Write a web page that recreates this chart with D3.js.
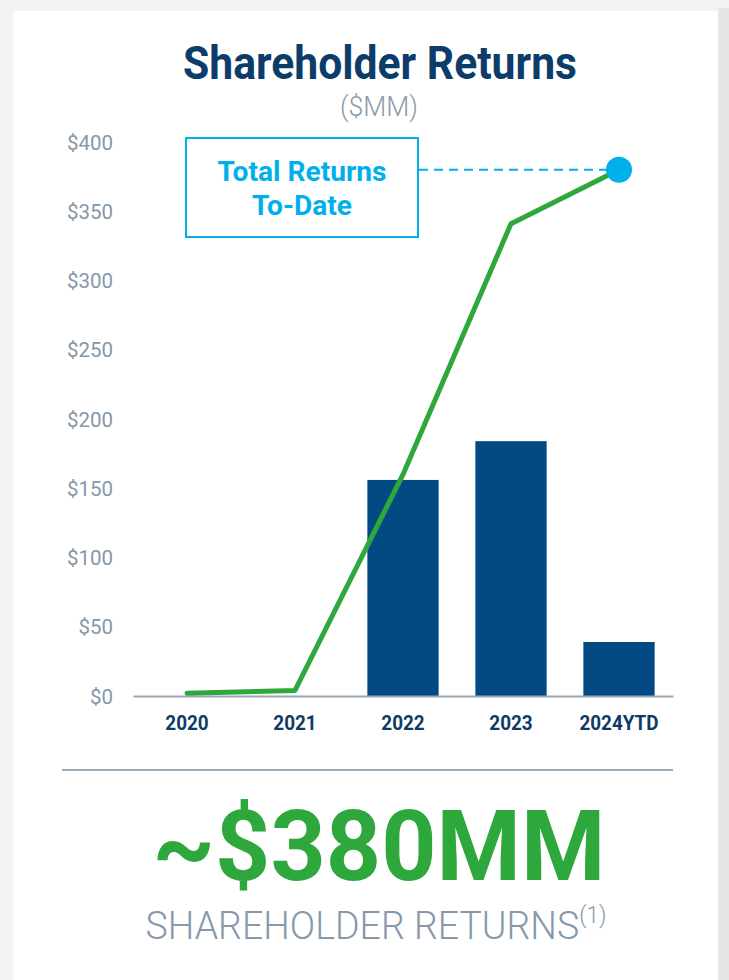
<!DOCTYPE html>
<html>
<head>
<meta charset="utf-8">
<script src="https://cdn.jsdelivr.net/npm/d3@7"></script>
<style>
  body { margin: 0; background: #f3f3f3; }
  svg { display: block; }
</style>
</head>
<body>
<svg id="chart" width="729" height="980"></svg>
<script>
// data ($MM)
var years = ['2020', '2021', '2022', '2023', '2024YTD']
var annualReturns = [0, 0, 156, 184, 39]
var totalToDate = [2, 4, 160, 341, 380]
var yTicks = [0, 50, 100, 150, 200, 250, 300, 350, 400]

var svg = d3.select('#chart')

// card + shadow
svg.append('rect').attr('x', 718).attr('y', 8).attr('width', 11).attr('height', 972).attr('fill', '#e6e6e6')
svg.append('rect').attr('x', 13).attr('y', 11).attr('width', 705).attr('height', 969).attr('fill', '#fff')

// squeeze text to a width (the original uses a condensed face)
function fit(sel, w) {
  var node = sel.node()
  var len = node.getComputedTextLength()
  var cx = +sel.attr('x'), cy = +sel.attr('y')
  var k = w / len
  sel.attr('transform', 'translate(' + cx + ',' + cy + ') scale(' + k + ',1) translate(' + (-cx) + ',' + (-cy) + ')')
}

var t = svg.append('text').attr('x', 380).attr('y', 79).attr('text-anchor', 'middle')
  .attr('font-family', 'Roboto').attr('font-weight', 700).attr('font-size', 46)
  .attr('fill', '#0b3c6a').text('Shareholder Returns')
fit(t, 394)

var mm = svg.append('text').attr('x', 379).attr('y', 116).attr('text-anchor', 'middle')
  .attr('font-family', 'Roboto').attr('font-weight', 300).attr('font-size', 27)
  .attr('fill', '#8a9bab').text('($MM)')
fit(mm, 78)

var x = d3.scaleBand().domain(years).range([133, 673]).paddingInner(0.34).paddingOuter(0.17)
var y = d3.scaleLinear().domain([0, 400]).range([696, 142])

// y axis labels
var yAxis = d3.axisLeft(y).tickValues(yTicks).tickSize(0).tickPadding(0).tickFormat(function(d) { return '$' + d })
var ya = svg.append('g').attr('transform', 'translate(113,0)').call(yAxis)
ya.select('.domain').remove()
ya.selectAll('text').attr('font-family', 'Roboto').attr('font-size', 20.5).attr('fill', '#8697a8').attr('dy', '0.35em')

// bars
svg.selectAll('.bar').data(years).enter().append('rect')
  .attr('x', function(d) { return x(d) })
  .attr('width', x.bandwidth())
  .attr('y', function(d, i) { return y(annualReturns[i]) })
  .attr('height', function(d, i) { return y(0) - y(annualReturns[i]) })
  .attr('fill', '#034a84')

// x axis
var xAxis = d3.axisBottom(x).tickSize(0).tickPadding(0)
var xa = svg.append('g').attr('transform', 'translate(0,' + y(0) + ')').call(xAxis)
xa.select('.domain').attr('stroke', '#9aa9b6').attr('stroke-width', 2)
xa.selectAll('text').attr('font-family', 'Roboto').attr('font-weight', 700).attr('font-size', 21)
  .attr('fill', '#0d3b66').attr('y', 34).attr('dy', 0)
  .attr('transform', 'scale(0.9,1)')

// cumulative line
var cx = function(d, i) { return x(years[i]) + x.bandwidth() / 2 }
var line = d3.line().x(cx).y(function(d) { return y(d) })
svg.append('path').datum(totalToDate).attr('d', line)
  .attr('fill', 'none').attr('stroke', '#2ea83c').attr('stroke-width', 5)
  .attr('stroke-linecap', 'round').attr('stroke-linejoin', 'round')

var last = totalToDate.length - 1
var dotX = cx(null, last), dotY = y(totalToDate[last])

// callout
svg.append('line').attr('x1', 419).attr('x2', dotX).attr('y1', dotY).attr('y2', dotY)
  .attr('stroke', '#00b0ea').attr('stroke-width', 2).attr('stroke-dasharray', '9,6')
svg.append('circle').attr('cx', dotX).attr('cy', dotY).attr('r', 13).attr('fill', '#00b0ea')
svg.append('rect').attr('x', 186).attr('y', 138).attr('width', 232).attr('height', 99)
  .attr('fill', '#fff').attr('stroke', '#00b0ea').attr('stroke-width', 2)
var c1 = svg.append('text').attr('x', 302).attr('y', 181).attr('text-anchor', 'middle')
  .attr('font-family', 'Roboto').attr('font-weight', 700).attr('font-size', 28)
  .attr('fill', '#00b0ea').text('Total Returns')
fit(c1, 169)
var c2 = svg.append('text').attr('x', 302).attr('y', 215).attr('text-anchor', 'middle')
  .attr('font-family', 'Roboto').attr('font-weight', 700).attr('font-size', 28)
  .attr('fill', '#00b0ea').text('To-Date')
fit(c2, 100)

// divider
svg.append('line').attr('x1', 62).attr('x2', 673).attr('y1', 770).attr('y2', 770)
  .attr('stroke', '#9aa9b6').attr('stroke-width', 2)

var big = svg.append('text').attr('x', 379).attr('y', 880).attr('text-anchor', 'middle')
  .attr('font-family', 'Roboto').attr('font-weight', 700).attr('font-size', 98)
  .attr('fill', '#2ea83c').text('~$380MM')
fit(big, 453)

var sub = svg.append('text').attr('x', 376).attr('y', 939).attr('text-anchor', 'middle')
  .attr('font-family', 'Roboto').attr('font-weight', 300).attr('font-size', 38)
  .attr('fill', '#8698aa')
sub.append('tspan').text('SHAREHOLDER RETURNS')
sub.append('tspan').attr('font-size', 23).attr('dy', -16).text('(1)')
fit(sub, 461)
</script>
</body>
</html>
